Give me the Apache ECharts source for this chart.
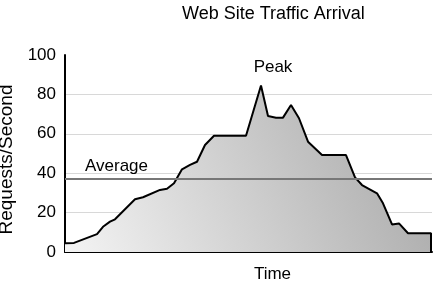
<!DOCTYPE html>
<html>
<head>
<meta charset="utf-8">
<script src="https://cdn.jsdelivr.net/npm/echarts@6/dist/echarts.min.js"></script>
<style>html,body{margin:0;padding:0;background:#fff}#c{width:433px;height:287px}</style>
</head>
<body>
<div id="c"></div>
<script>
const titleText = 'Web Site Traffic Arrival';
const xName = 'Time';
const yName = 'Requests/Second';
const times = [0, 9, 32, 38, 45, 50, 70, 78, 95, 102, 109, 117, 125, 132, 140, 149, 181, 196, 203, 211, 218, 226, 234, 243, 257, 281, 290, 297, 312, 318, 327, 334, 343, 366, 366];
const requests = [4.4, 4.6, 9.1, 12.8, 15.4, 16.6, 26.8, 27.8, 31.5, 32.1, 34.9, 42, 44.2, 45.8, 54.3, 59, 59, 84.5, 69, 68.2, 68.2, 74.6, 67.9, 56, 49.2, 49.2, 37.9, 34, 29.8, 24.7, 14, 14.5, 9.5, 9.5, 0];
const averageValue = 37;
const averageLabel = 'Average';
const peakLabel = 'Peak';
const yTicks = [0, 20, 40, 60, 80, 100];

const font = 'Liberation Sans, Arial, Helvetica, sans-serif';
const seriesData = times.map((t, i) => [t, requests[i]]);
let peakIdx = 0;
requests.forEach((v, i) => { if (v > requests[peakIdx]) peakIdx = i; });

const chart = echarts.init(document.getElementById('c'), null, {renderer: 'canvas'});
chart.setOption({
  animation: false,
  backgroundColor: '#fff',
  title: {
    text: titleText,
    left: 177, top: 0,
    textStyle: {fontFamily: font, fontSize: 18, fontWeight: 'normal', color: '#000'}
  },
  grid: {left: 65, right: 1, top: 55, bottom: 35, containLabel: false, outerBoundsMode: 'none'},
  xAxis: {
    type: 'value', min: 0, max: 367,
    name: xName, nameLocation: 'middle', nameGap: 14,
    nameTextStyle: {fontFamily: font, fontSize: 17, color: '#000', padding: [0, 0, 0, 48]},
    axisLine: {show: true, onZero: false, lineStyle: {color: '#000', width: 2}},
    axisTick: {show: false}, axisLabel: {show: false}, splitLine: {show: false}
  },
  yAxis: {
    type: 'value', min: yTicks[0], max: yTicks[yTicks.length - 1], interval: yTicks[1] - yTicks[0],
    name: yName, nameLocation: 'middle', nameGap: 36,
    nameTextStyle: {fontFamily: font, fontSize: 19, color: '#000', padding: [8, 12, 0, 0]},
    axisLine: {show: true, lineStyle: {color: '#000', width: 2}},
    axisTick: {show: false},
    axisLabel: {fontFamily: font, fontSize: 17, color: '#000', margin: 9},
    splitLine: {show: true, showMinLine: false, showMaxLine: false, lineStyle: {color: '#d8d8d8', width: 1}}
  },
  series: [{
    type: 'line',
    data: seriesData,
    symbol: 'none',
    lineStyle: {color: '#000', width: 2},
    areaStyle: {
      opacity: 1,
      color: new echarts.graphic.LinearGradient(0, 1, 1, 0, [
        {offset: 0, color: '#f4f4f4'},
        {offset: 1, color: '#a4a4a4'}
      ])
    },
    markLine: {
      silent: true, symbol: 'none',
      lineStyle: {color: '#777', width: 2, type: 'solid'},
      label: {
        show: true, position: 'insideStartTop', formatter: averageLabel,
        fontFamily: font, fontSize: 17, color: '#000', distance: [20, 4]
      },
      data: [{yAxis: averageValue}]
    },
    markPoint: {
      silent: true, symbol: 'circle', symbolSize: 0,
      label: {show: true, formatter: peakLabel, fontFamily: font, fontSize: 17, color: '#000', offset: [12, -18]},
      data: [{coord: seriesData[peakIdx]}]
    }
  }]
});
</script>
</body>
</html>
